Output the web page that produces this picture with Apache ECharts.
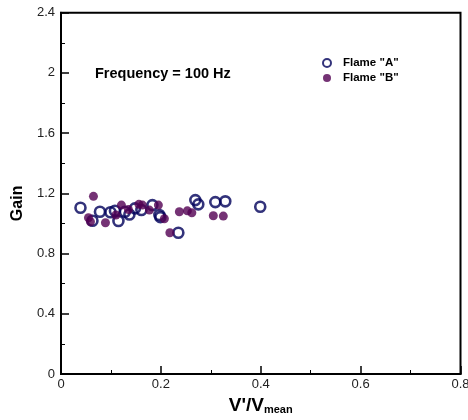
<!DOCTYPE html>
<html>
<head>
<meta charset="utf-8">
<script src="https://cdn.jsdelivr.net/npm/echarts@6/dist/echarts.min.js"></script>
<style>html,body{margin:0;padding:0;background:#fff}#c{width:468px;height:420px}</style>
</head>
<body>
<div id="c"></div>
<script>
// Flame "A" (open circles): [V'/Vmean, Gain]
var flameA = [
  [0.039, 1.104], [0.063, 1.018], [0.078, 1.078], [0.099, 1.074], [0.108, 1.084],
  [0.115, 1.016], [0.128, 1.078], [0.137, 1.060], [0.148, 1.100], [0.161, 1.089],
  [0.183, 1.122], [0.197, 1.056], [0.199, 1.042], [0.235, 0.938], [0.269, 1.155],
  [0.275, 1.127], [0.309, 1.142], [0.329, 1.147], [0.399, 1.111]
];
// Flame "B" (filled circles)
var flameB = [
  [0.065, 1.180], [0.055, 1.038], [0.059, 1.011], [0.089, 1.005], [0.110, 1.056],
  [0.121, 1.122], [0.135, 1.093], [0.156, 1.127], [0.163, 1.122], [0.177, 1.089],
  [0.195, 1.122], [0.207, 1.031], [0.218, 0.938], [0.237, 1.078], [0.253, 1.084],
  [0.262, 1.071], [0.305, 1.051], [0.325, 1.049]
];
var seriesNames = ['Flame "A"', 'Flame "B"'];
var titleText = 'Frequency = 100 Hz';
var xTicks = [0, 0.2, 0.4, 0.6, 0.8];
var yTicks = [0, 0.4, 0.8, 1.2, 1.6, 2, 2.4];

var chart = echarts.init(document.getElementById('c'));
var font = '"Liberation Sans", Arial, sans-serif';
chart.setOption({
  animation: false,
  backgroundColor: '#fff',
  grid: { left: 61, right: 7.5, top: 12.7, bottom: 46, show: true, borderColor: '#000', borderWidth: 2,
    backgroundColor: 'transparent', containLabel: false, outerBoundsMode: 'none' },
  title: {
    text: titleText, left: 90, top: 61,
    textStyle: { fontFamily: font, fontSize: 14.5, fontWeight: 'bold', color: '#000' }
  },
  legend: {
    orient: 'vertical', left: 317, top: 52, itemGap: 3, itemWidth: 10, itemHeight: 8,
    textStyle: { fontFamily: font, fontSize: 11.5, fontWeight: 'bold', color: '#000', padding: [0, 0, 0, 6] },
    data: [
      { name: seriesNames[0], icon: 'circle' },
      { name: seriesNames[1], icon: 'circle' }
    ]
  },
  xAxis: {
    type: 'value', min: xTicks[0], max: xTicks[xTicks.length - 1], interval: 0.2,
    axisLine: { show: true, lineStyle: { color: '#000', width: 2 } },
    axisTick: { inside: true, length: 8, lineStyle: { color: '#000', width: 1.5 } },
    minorTick: { show: true, splitNumber: 2, length: 4, lineStyle: { color: '#000', width: 1 } },
    splitLine: { show: false },
    axisLabel: { fontFamily: font, fontSize: 13, color: '#222', margin: 4,
      formatter: function (v) { return String(+v.toFixed(1)); } },
    name: "V'/V{s|mean}", nameLocation: 'middle', nameGap: 20,
    nameTextStyle: { fontFamily: font, fontSize: 19, fontWeight: 'bold', color: '#000',
      rich: { s: { fontFamily: font, fontSize: 11, fontWeight: 'bold', color: '#000', verticalAlign: 'bottom', padding: [10, 0, 0, 0] } } }
  },
  yAxis: {
    type: 'value', min: yTicks[0], max: yTicks[yTicks.length - 1], interval: 0.4,
    axisLine: { show: true, lineStyle: { color: '#000', width: 2 } },
    axisTick: { inside: true, length: 8, lineStyle: { color: '#000', width: 1.5 } },
    minorTick: { show: true, splitNumber: 2, length: 4, lineStyle: { color: '#000', width: 1 } },
    splitLine: { show: false },
    axisLabel: { fontFamily: font, fontSize: 13, color: '#222', margin: 6,
      formatter: function (v) { return String(+v.toFixed(1)); } },
    name: 'Gain', nameLocation: 'middle', nameGap: 35, nameRotate: 90,
    nameTextStyle: { fontFamily: font, fontSize: 16, fontWeight: 'bold', color: '#000', padding: [0, 20, 0, 0] }
  },
  series: [
    {
      name: seriesNames[0], type: 'scatter', data: flameA, symbol: 'circle', symbolSize: 10,
      itemStyle: { color: 'rgba(255,255,255,0)', borderColor: '#00005a', borderWidth: 2.6 }
    },
    {
      name: seriesNames[1], type: 'scatter', data: flameB, symbol: 'circle', symbolSize: 9,
      itemStyle: { color: '#520052' }
    }
  ]
});
</script>
</body>
</html>
